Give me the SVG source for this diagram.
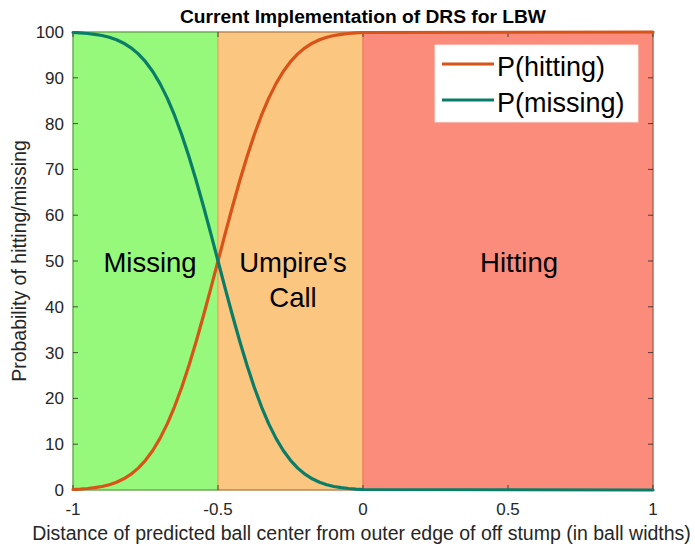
<svg xmlns="http://www.w3.org/2000/svg" width="695" height="546" viewBox="0 0 695 546">
<style>
.t{font-family:"Liberation Sans",Arial,sans-serif;fill:#262626}
.tick{font-size:17px}
.reg{font-family:"Liberation Sans",Arial,sans-serif;fill:#000;font-size:27.5px;text-anchor:middle}
.tk{stroke:#262626;stroke-width:0.8;fill:none}
.curve{fill:none;stroke-width:3.2;stroke-linejoin:round;stroke-linecap:round}
</style>
<rect x="0" y="0" width="695" height="546" fill="#ffffff"/>
<g id="regions">
<rect id="missing-region" x="73" y="32" width="145" height="458" fill="#96F97B" stroke="#80DD5E" stroke-width="1.2"/>
<rect id="umpire-region" x="218" y="32" width="145" height="458" fill="#FBC67F" stroke="#F2A95C" stroke-width="1.2"/>
<rect id="hitting-region" x="363" y="32" width="290" height="458" fill="#FB8C7B" stroke="#F07863" stroke-width="1.2"/>
</g>
<g id="axes">
<rect x="73" y="32" width="580" height="458" fill="none" stroke="#262626" stroke-width="0.6" stroke-opacity="0.7"/>
<path class="tk" d="M73 490h5M73 444.2h5M73 398.4h5M73 352.6h5M73 306.8h5M73 261h5M73 215.2h5M73 169.4h5M73 123.6h5M73 77.8h5M73 32h5
M653 490h-5M653 444.2h-5M653 398.4h-5M653 352.6h-5M653 306.8h-5M653 261h-5M653 215.2h-5M653 169.4h-5M653 123.6h-5M653 77.8h-5M653 32h-5
M73 490v-5M218 490v-5M363 490v-5M508 490v-5M653 490v-5
M73 32v5M218 32v5M363 32v5M508 32v5M653 32v5"/>
</g>
<g id="curves">
<polyline id="p-hitting" class="curve" stroke="#D95319" points="73,489.5 80.25,489.1 87.5,488.5 94.75,487.7 102,486.5 109.25,484.7 116.5,482.2 123.75,478.8 131,474.2 138.25,468.1 145.5,460.3 152.75,450.5 160,438.4 167.25,423.9 174.5,406.8 181.75,387.3 189,365.3 196.25,341.3 203.5,315.5 210.75,288.6 218,261 225.25,233.4 232.5,206.5 239.75,180.7 247,156.7 254.25,134.7 261.5,115.2 268.75,98.1 276,83.6 283.25,71.5 290.5,61.7 297.75,53.9 305,47.8 312.25,43.2 319.5,39.8 326.75,37.3 334,35.5 341.25,34.3 348.5,33.5 355.75,32.9 363,32.5 653,32"/>
<polyline id="p-missing" class="curve" stroke="#0A7D68" points="73,32.5 80.25,32.9 87.5,33.5 94.75,34.3 102,35.5 109.25,37.3 116.5,39.8 123.75,43.2 131,47.8 138.25,53.9 145.5,61.7 152.75,71.5 160,83.6 167.25,98.1 174.5,115.2 181.75,134.7 189,156.7 196.25,180.7 203.5,206.5 210.75,233.4 218,261 225.25,288.6 232.5,315.5 239.75,341.3 247,365.3 254.25,387.3 261.5,406.8 268.75,423.9 276,438.4 283.25,450.5 290.5,460.3 297.75,468.1 305,474.2 312.25,478.8 319.5,482.2 326.75,484.7 334,486.5 341.25,487.7 348.5,488.5 355.75,489.1 363,489.5 653,490"/>
</g>
<g id="region-labels">
<text class="reg" x="150" y="272">Missing</text>
<text class="reg" x="293" y="272">Umpire's</text>
<text class="reg" x="293" y="307">Call</text>
<text class="reg" x="519" y="272">Hitting</text>
</g>
<g id="legend">
<rect x="435" y="45" width="203" height="77" fill="#ffffff" stroke="#f0f0f0" stroke-width="0.8"/>
<line x1="442" y1="64" x2="494" y2="64" stroke="#D95319" stroke-width="3.2"/>
<line x1="442" y1="100" x2="494" y2="100" stroke="#0A7D68" stroke-width="3.2"/>
<text class="t" x="497" y="76" font-size="27" style="fill:#000">P(hitting)</text>
<text class="t" x="497" y="112" font-size="27" style="fill:#000">P(missing)</text>
</g>
<g id="tick-labels" class="t tick">
<g text-anchor="end">
<text x="64" y="38">100</text>
<text x="64" y="84">90</text>
<text x="64" y="129.6">80</text>
<text x="64" y="175.4">70</text>
<text x="64" y="221.2">60</text>
<text x="64" y="267">50</text>
<text x="64" y="312.8">40</text>
<text x="64" y="358.6">30</text>
<text x="64" y="404.4">20</text>
<text x="64" y="450.2">10</text>
<text x="64" y="496">0</text>
</g>
<g text-anchor="middle">
<text x="73" y="515">-1</text>
<text x="218" y="515">-0.5</text>
<text x="363" y="515">0</text>
<text x="508" y="515">0.5</text>
<text x="653" y="515">1</text>
</g>
</g>
<g id="axis-labels">
<text class="t" x="361.5" y="540" font-size="19.5" text-anchor="middle">Distance of predicted ball center from outer edge of off stump (in ball widths)</text>
<text class="t" transform="translate(26 261) rotate(-90)" font-size="19.5" text-anchor="middle">Probability of hitting/missing</text>
<text class="t" x="363" y="23" font-size="18" font-weight="bold" text-anchor="middle" textLength="366" lengthAdjust="spacingAndGlyphs" style="fill:#000">Current Implementation of DRS for LBW</text>
</g>
</svg>
